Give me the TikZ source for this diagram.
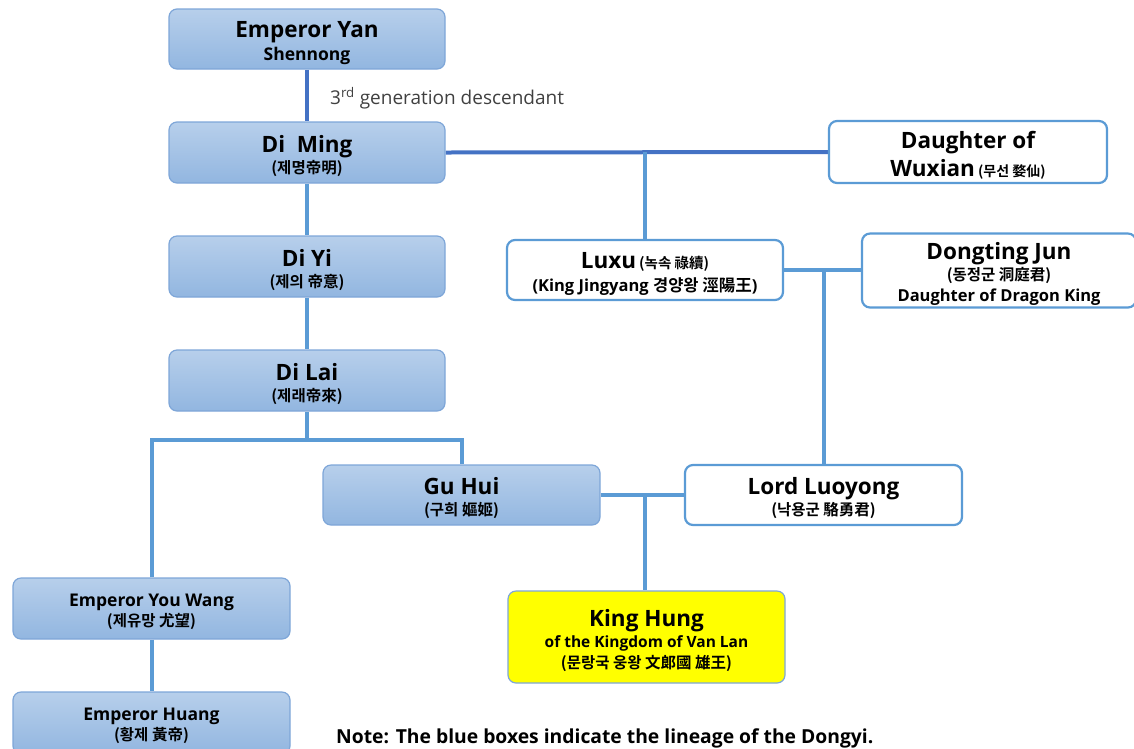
\documentclass[tikz,border=0pt]{standalone}
\usepackage{fontspec}
\setmainfont{Open Sans}
\newfontfamily\krf{Noto Sans CJK KR}[BoldFont={Noto Sans CJK KR Bold}]
\usetikzlibrary{backgrounds}
\definecolor{boxtop}{RGB}{183,207,235}
\definecolor{boxbot}{RGB}{146,182,224}
\definecolor{boxline}{RGB}{126,166,216}
\definecolor{linklight}{RGB}{91,155,213}
\definecolor{linkdark}{RGB}{68,114,196}
\definecolor{yell}{RGB}{255,255,0}
\newcommand{\ntl}[1]{{\fontsize{22.5}{24}\selectfont\rule{0pt}{24pt}#1}}
\newcommand{\ntlb}[1]{{\fontsize{22.5}{24}\selectfont #1}}
\newcommand{\nsb}[1]{{\fontsize{17.5}{19}\selectfont #1}}
\newcommand{\nst}[1]{{\fontsize{17.5}{19}\selectfont\rule{0pt}{19pt}#1}}
\newcommand{\nkr}[1]{{\krf\fontsize{15.5}{17}\selectfont #1}}
\tikzset{
  basebox/.style={rounded corners=8pt, align=center, inner sep=2pt},
  lsp/.style={font=\bfseries\fontsize{12}{#1}\selectfont},
  bluebox/.style={basebox, draw=boxline, line width=1.2pt, top color=boxtop, bottom color=boxbot},
  whitebox/.style={basebox, draw=linklight, line width=2.2pt, fill=white},
  yellowbox/.style={basebox, draw=boxline, line width=1.2pt, fill=yell},
  link/.style={draw=linklight, line width=4pt},
  darklink/.style={draw=linkdark, line width=4pt},
}
\begin{document}
\begin{tikzpicture}[x=1pt,y=-1pt]
\clip (0,0) rectangle (1134,748);
\useasboundingbox (0,0) rectangle (1134,748);
% blue boxes
\node[bluebox, lsp=23, minimum width=276, minimum height=60] (yan) at (307,39) {\ntl{Emperor Yan}\\\nsb{Shennong}};
\node[bluebox, lsp=21, minimum width=276, minimum height=61] (ming) at (307,152.5) {\ntl{Di\ \ Ming}\\\nkr{(제명帝明)}};
\node[bluebox, lsp=21, minimum width=276, minimum height=61] (yi) at (307,266.5) {\ntl{Di Yi}\\\nkr{(제의 帝意)}};
\node[bluebox, lsp=21, minimum width=276, minimum height=61] (lai) at (307,380.5) {\ntl{Di Lai}\\\nkr{(제래帝來)}};
\node[bluebox, lsp=21, minimum width=277, minimum height=60] (gu) at (461.5,495) {\ntl{Gu Hui}\\\nkr{(구희 嫗姬)}};
\node[bluebox, lsp=20, minimum width=277, minimum height=61] (youw) at (151.5,608.5) {\nst{Emperor You Wang}\\\nkr{(제유망 尤望)}};
\node[bluebox, lsp=20, minimum width=277, minimum height=62] (huang) at (151.5,723) {\nst{Emperor Huang}\\\nkr{(황제 黃帝)}};
% white boxes
\node[whitebox, lsp=28, minimum width=278, minimum height=62] (wux) at (968,152) {\ntl{Daughter of}\\\ntlb{Wuxian} {\krf\fontsize{14}{15}\selectfont (무선 婺仙)}};
\node[whitebox, lsp=23, minimum width=276, minimum height=60] (luxu) at (645,270) {\ntl{Luxu} {\krf\fontsize{14.5}{16}\selectfont (녹속 祿續)}\\{\fontsize{16.5}{18}\selectfont (King Jingyang {\krf 경양왕 涇陽王})}};
\node[whitebox, lsp=21, minimum width=274, minimum height=71] (dong) at (999,270.5) {\ntl{Dongting Jun}\\\nkr{(동정군 洞庭君)}\\{\fontsize{16.5}{18}\selectfont Daughter of Dragon King}};
\node[whitebox, lsp=21, minimum width=277, minimum height=60] (luo) at (823.5,495) {\ntl{Lord Luoyong}\\\nkr{(낙용군 駱勇君)}};
% yellow box
\node[yellowbox, lsp=21, minimum width=277, minimum height=92] (hung) at (646.5,637) {\ntl{King Hung}\\{\fontsize{15.5}{17}\selectfont of the Kingdom of Van Lan}\\\nkr{(문랑국 웅왕 文郞國 雄王)}};
% texts
\node[anchor=base west, inner sep=0pt, text=black!75, font=\fontsize{19}{21}\selectfont] (gen) at (330,104) {3\textsuperscript{rd} generation descendant};
\node[anchor=base west, inner sep=0pt, font=\bfseries\fontsize{19.3}{21}\selectfont] (note) at (336,743) {Note: The blue boxes indicate the lineage of the Dongyi.};
% connectors
\begin{pgfonlayer}{background}
\draw[darklink] (yan) -- (ming);
\draw[darklink] (ming.east) -- (wux.west);
\coordinate (mj) at (645,152);
\draw[link] (mj) -- (luxu.north);
\draw[link] (ming) -- (yi);
\draw[link] (yi) -- (lai);
\coordinate (laij) at (307,440);
\draw[link] (lai.south) -- (laij);
\draw[link] (youw.north) |- (laij) -| (gu.north);
\draw[link] (youw) -- (huang);
\draw[link] (luxu.east) -- (luxu.east -| dong.west);
\coordinate (lj) at (823.5,270);
\draw[link] (lj) -- (luo.north);
\draw[link] (gu.east) -- (luo.west);
\coordinate (gj) at (645,495);
\draw[link] (gj) -- (gj |- hung.north);
\end{pgfonlayer}
\end{tikzpicture}
\end{document}
